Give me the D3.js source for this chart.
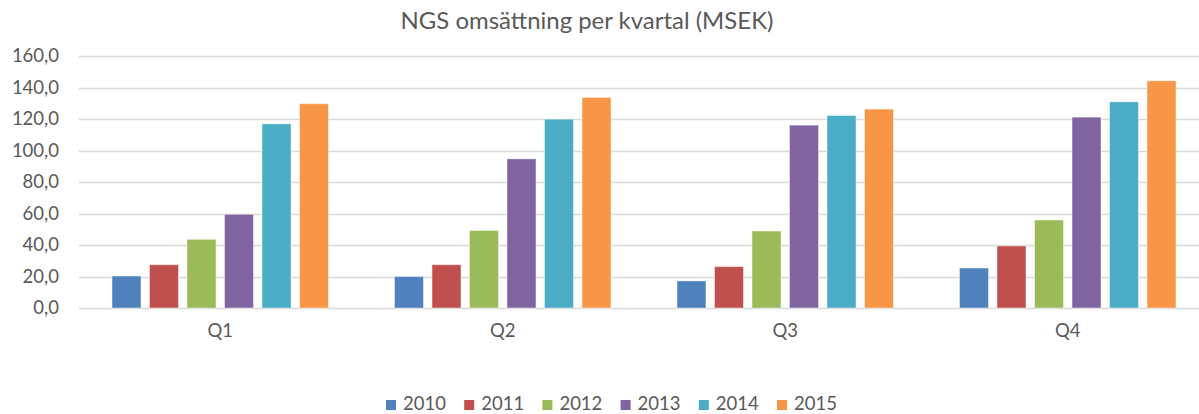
<!DOCTYPE html>
<html>
<head>
<meta charset="utf-8">
<script src="https://cdn.jsdelivr.net/npm/d3@7"></script>
<style>
  html, body { margin: 0; padding: 0; background: #fff; }
  svg { display: block; }
  text { font-family: Lato, "Open Sans", sans-serif; fill: #595959; }
</style>
</head>
<body>
<svg id="chart" width="1199" height="414"></svg>
<script>
const title = "NGS omsättning per kvartal (MSEK)";
const quarters = ["Q1", "Q2", "Q3", "Q4"];
const years = ["2010", "2011", "2012", "2013", "2014", "2015"];
const v2010 = [20.3, 20.0, 17.2, 25.4];
const v2011 = [27.5, 27.5, 26.3, 39.4];
const v2012 = [43.6, 49.2, 48.9, 55.9];
const v2013 = [59.5, 94.7, 116.1, 121.2];
const v2014 = [116.9, 119.9, 122.2, 130.9];
const v2015 = [129.7, 133.7, 126.3, 144.3];
const yTicks = [0, 20, 40, 60, 80, 100, 120, 140, 160];
const colors = ["#4f81bd", "#c0504d", "#9bbb59", "#8064a2", "#4bacc6", "#f79646"];

const seriesValues = [v2010, v2011, v2012, v2013, v2014, v2015];
const data = quarters.map((q, qi) => ({
  q,
  vals: years.map((y, yi) => ({ year: y, value: seriesValues[yi][qi], color: colors[yi] }))
}));

const svg = d3.select("#chart");
const W = 1199, H = 414;

const plotLeft = 79, plotRight = 1209;
const y = d3.scaleLinear().domain([0, 160]).range([308, 56]);
const x0 = d3.scaleBand().domain(quarters).range([plotLeft, plotRight])
  .paddingInner(0.2336).paddingOuter(0.1168);
const x1 = d3.scaleBand().domain(years).range([0, x0.bandwidth()])
  .paddingInner(0.227).paddingOuter(0);

const locale = d3.formatLocale({ decimal: ",", thousands: " ", grouping: [3], currency: ["", " kr"] });
const fmt = locale.format(".1f");

// Title
const t = svg.append("text")
  .attr("x", 587).attr("y", 29)
  .attr("text-anchor", "middle")
  .style("font-size", "24px")
  .text(title);
// fit title to reference width (~373px)
const tw = t.node().getComputedTextLength();
if (tw > 0) t.style("font-size", (24 * 373 / tw).toFixed(2) + "px");

// Gridlines
const grid = svg.append("g");
grid.selectAll("line").data(yTicks).join("line")
  .attr("x1", plotLeft).attr("x2", W)
  .attr("y1", d => Math.round(y(d)) + 0.5).attr("y2", d => Math.round(y(d)) + 0.5)
  .attr("stroke", "#d9d9d9").attr("stroke-width", 1.3);

// Y axis labels
const yAxis = d3.axisLeft(y).tickValues(yTicks).tickFormat(fmt).tickSize(0).tickPadding(0);
const yg = svg.append("g").attr("transform", "translate(59,0)").call(yAxis);
yg.select(".domain").remove();
yg.selectAll("text").style("font-size", "18.5px").style("font-family", "Lato, sans-serif").attr("fill", "#595959");

// Bars
const groups = svg.append("g").selectAll("g").data(data).join("g")
  .attr("transform", d => `translate(${x0(d.q)},0)`);
groups.selectAll("rect").data(d => d.vals).join("rect")
  .attr("x", d => x1(d.year))
  .attr("width", x1.bandwidth())
  .attr("y", d => y(d.value))
  .attr("height", d => y(0) - y(d.value))
  .attr("fill", d => d.color)
  .attr("stroke", "rgba(255,255,255,0.45)")
  .attr("stroke-width", 1);

// X axis labels
const xAxis = d3.axisBottom(x0).tickSize(0).tickPadding(0);
const xg = svg.append("g").attr("transform", "translate(0,324)").call(xAxis);
xg.select(".domain").remove();
xg.selectAll("text").style("font-size", "18.5px").style("font-family", "Lato, sans-serif").attr("fill", "#595959");

// Legend
const legend = svg.append("g");
const item = legend.selectAll("g").data(years).join("g")
  .attr("transform", (d, i) => `translate(${386 + i * 78.2},0)`);
item.append("rect").attr("x", 0).attr("y", 400).attr("width", 10).attr("height", 10)
  .attr("fill", (d, i) => colors[i]);
item.append("text").attr("x", 17).attr("y", 410)
  .style("font-size", "18.5px").text(d => d);
</script>
</body>
</html>
